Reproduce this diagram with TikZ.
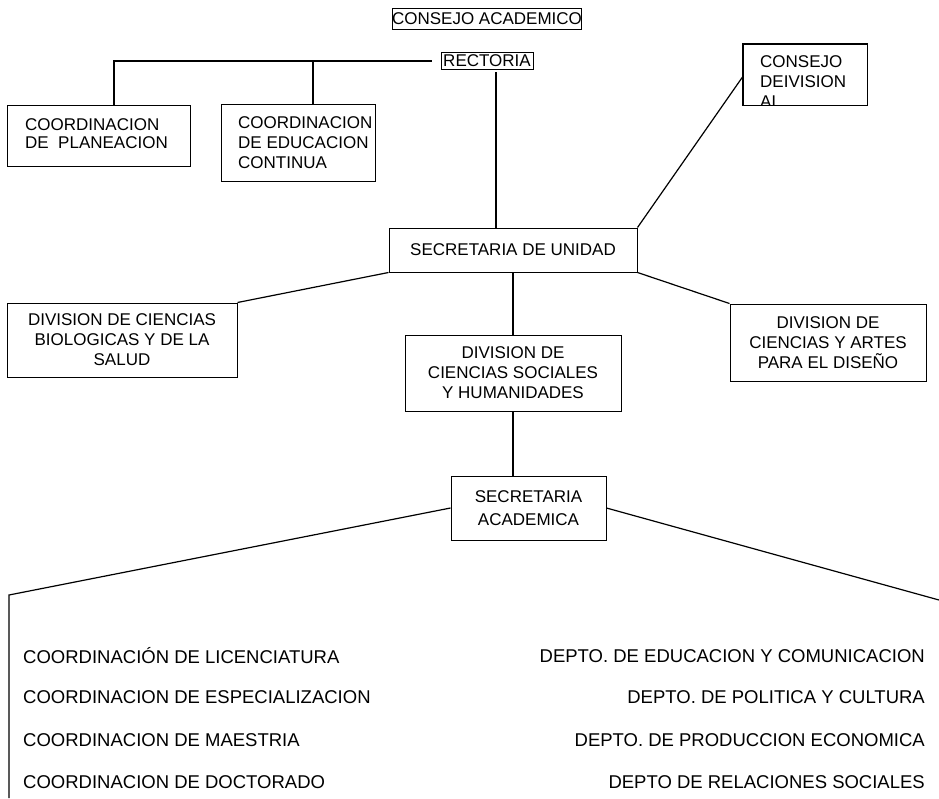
\documentclass[tikz,border=0pt]{standalone}
\usepackage{fontspec}
\setmainfont{Liberation Sans}
\begin{document}
\begin{tikzpicture}[x=1pt,y=-1pt,
  boxfont/.style={font=\fontsize{17}{20}\selectfont},
  orgbox/.style={draw, line width=1pt, inner sep=0pt, align=center, boxfont},
  conn/.style={line width=1.2pt},
  listtxt/.style={inner sep=0pt, font=\fontsize{18.5}{22}\selectfont}]
\useasboundingbox (0,0) rectangle (939,798);

% top boxes
\node[orgbox, minimum width=188pt, minimum height=21pt] (ca) at (487,18.5) {CONSEJO ACADEMICO};
\node[orgbox, minimum width=92pt, minimum height=17pt] (rect) at (487,61) {RECTORIA};

\node[orgbox, minimum width=183pt, minimum height=61pt] (plan) at (98.5,135.5) {};
\node[inner sep=0pt, anchor=west, align=left, font=\fontsize{17}{18}\selectfont] (plantxt) at (25,134) {COORDINACION\\DE\ \ PLANEACION};

\node[orgbox, minimum width=154pt, minimum height=77pt] (educ) at (298,142.5) {};
\node[inner sep=0pt, anchor=west, align=left, boxfont] (eductxt) at (238,143) {COORDINACION\\DE EDUCACION\\CONTINUA};

\node[orgbox, minimum width=124pt, minimum height=61pt] (cdiv) at (805,74.5) {};
\begin{scope}
  \clip (cdiv.north west) rectangle (cdiv.south east);
  \node[inner sep=0pt, anchor=west, align=left, boxfont] (cdivtxt) at (760,82) {CONSEJO\\DEIVISION\\AL};
\end{scope}
\draw[line width=1pt] (cdiv.north west) rectangle (cdiv.south east);

\node[orgbox, minimum width=248pt, minimum height=44pt] (su) at (513,250) {SECRETARIA DE UNIDAD};

\node[orgbox, minimum width=230pt, minimum height=74pt] (dbio) at (122,340) {DIVISION DE CIENCIAS\\BIOLOGICAS Y DE LA\\SALUD};
\node[orgbox, minimum width=216pt, minimum height=76pt] (dsoc) at (513,373) {DIVISION DE\\CIENCIAS SOCIALES\\Y HUMANIDADES};
\node[orgbox, minimum width=196pt, minimum height=77pt] (ddis) at (828,342.5) {DIVISION DE\\CIENCIAS Y ARTES\\PARA EL DISEÑO};

\node[orgbox, minimum width=155pt, minimum height=64pt, font=\fontsize{17}{23}\selectfont] (sa) at (528.5,508) {SECRETARIA\\ACADEMICA};

% connector points
\coordinate (j1) at (114,61);
\coordinate (j2) at (313,61);
\coordinate (lc) at (9,595);
\coordinate (lb) at (9,798);
\coordinate (rc) at (939,600);

% connectors
\draw[conn] ([xshift=-9pt]rect.west) -- (j1) -- (j1 |- plan.north);
\draw[conn] (j2) -- (j2 |- educ.north);
\draw[conn] ([xshift=9pt,yshift=-2pt]rect.south) -- ([xshift=-17pt]su.north);
\draw[conn] ([yshift=-2.5pt]cdiv.west) -- (su.north east);
\draw[conn] (su.south west) -- (dbio.north east);
\draw[conn] (su.south) -- (dsoc.north);
\draw[conn] (su.south east) -- (ddis.north west);
\draw[conn] (dsoc.south) -- (dsoc.south |- sa.north);
\draw[conn] (sa.west) -- (lc) -- (lb);
\draw[conn] (sa.east) -- (rc);

% lists
\node[listtxt, anchor=west] (l1) at (23,656) {COORDINACIÓN DE LICENCIATURA};
\node[listtxt, anchor=west] (l2) at (23,697) {COORDINACION DE ESPECIALIZACION};
\node[listtxt, anchor=west] (l3) at (23,740) {COORDINACION DE MAESTRIA};
\node[listtxt, anchor=west] (l4) at (23,782) {COORDINACION DE DOCTORADO};

\node[listtxt, anchor=east] (r1) at (925,656) {DEPTO. DE EDUCACION Y COMUNICACION};
\node[listtxt, anchor=east] (r2) at (925,697) {DEPTO. DE POLITICA Y CULTURA};
\node[listtxt, anchor=east] (r3) at (925,740) {DEPTO. DE PRODUCCION ECONOMICA};
\node[listtxt, anchor=east] (r4) at (925,782) {DEPTO DE RELACIONES SOCIALES};
\end{tikzpicture}
\end{document}
